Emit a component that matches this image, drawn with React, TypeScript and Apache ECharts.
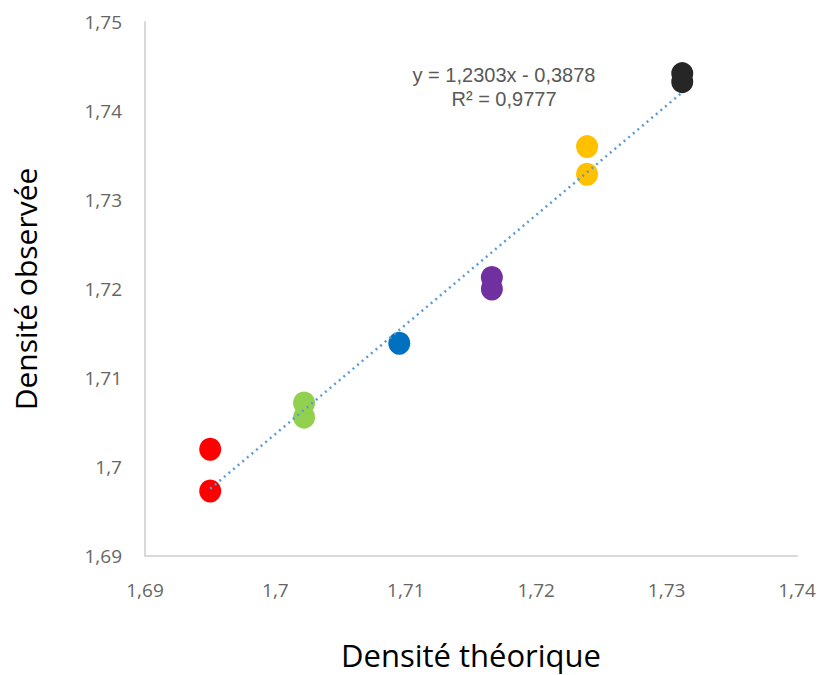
import React, { useEffect, useRef } from "react";
import * as echarts from "echarts";

const densiteTheorique = [1.695, 1.695, 1.7022, 1.7022, 1.7095, 1.7166, 1.7166, 1.7239, 1.7239, 1.7312, 1.7312];
const densiteObservee = [1.702, 1.6973, 1.7072, 1.7056, 1.7139, 1.7213, 1.72, 1.736, 1.7329, 1.7442, 1.7433];
const pointColors = ["#FF0000", "#FF0000", "#92D050", "#92D050", "#0070C0", "#7030A0", "#7030A0", "#FFC000", "#FFC000", "#262626", "#262626"];
const slope = 1.2303;
const intercept = -0.3878;
const trendX = [1.695, 1.7312];
const equationLines = ["y = 1,2303x - 0,3878", "R² = 0,9777"];

const fmt = (v: number) => String(+v.toFixed(2)).replace(".", ",");

export default function App() {
  const ref = useRef<HTMLDivElement>(null);
  useEffect(() => {
    if (!ref.current) return;
    const chart = echarts.init(ref.current, null, { renderer: "svg" });
    const font = "'Open Sans', 'Noto Sans', sans-serif";
    chart.setOption({
      animation: false,
      backgroundColor: "#ffffff",
      grid: { left: 145, right: 26, top: 22, bottom: 118 },
      xAxis: {
        type: "value",
        min: 1.69,
        max: 1.74,
        interval: 0.01,
        splitLine: { show: false },
        axisTick: { show: false },
        axisLine: { lineStyle: { color: "#D9D9D9", width: 2 } },
        axisLabel: { formatter: fmt, color: "#666666", fontSize: 19, margin: 24, fontFamily: font },
        name: "Densité théorique",
        nameLocation: "middle",
        nameGap: 83,
        nameTextStyle: { color: "#000", fontSize: 31, fontFamily: font },
      },
      yAxis: {
        type: "value",
        min: 1.69,
        max: 1.75,
        interval: 0.01,
        splitLine: { show: false },
        axisTick: { show: false },
        axisLine: { show: true, lineStyle: { color: "#D9D9D9", width: 2 } },
        axisLabel: { formatter: fmt, color: "#666666", fontSize: 19, margin: 23, fontFamily: font },
        name: "Densité observée",
        nameLocation: "middle",
        nameGap: 105,
        nameTextStyle: { color: "#000", fontSize: 30, fontFamily: font },
      },
      series: [
        {
          type: "line",
          data: trendX.map((x) => [x, slope * x + intercept]),
          symbol: "none",
          lineStyle: { color: "#5B9BD5", width: 2.5, type: [2, 4] },
          z: 3,
        },
        {
          type: "scatter",
          symbol: "circle",
          symbolSize: [22, 23],
          data: densiteTheorique.map((x, i) => ({
            value: [x, densiteObservee[i]],
            itemStyle: { color: pointColors[i], opacity: 1 },
          })),
          z: 2,
        },
      ],
      graphic: equationLines.map((t, i) => ({
        type: "text",
        x: 504,
        y: 75 + i * 24,
        style: {
          text: t,
          align: "center",
          verticalAlign: "middle",
          fill: "#595959",
          fontSize: 20,
          lineHeight: 20,
          fontFamily: "'Liberation Sans', Arial, sans-serif",
        },
      })),
    });
    return () => chart.dispose();
  }, []);
  return (
    <div
      ref={ref}
      style={{ position: "fixed", left: 0, top: 0, width: 823, height: 675 }}
    />
  );
}
